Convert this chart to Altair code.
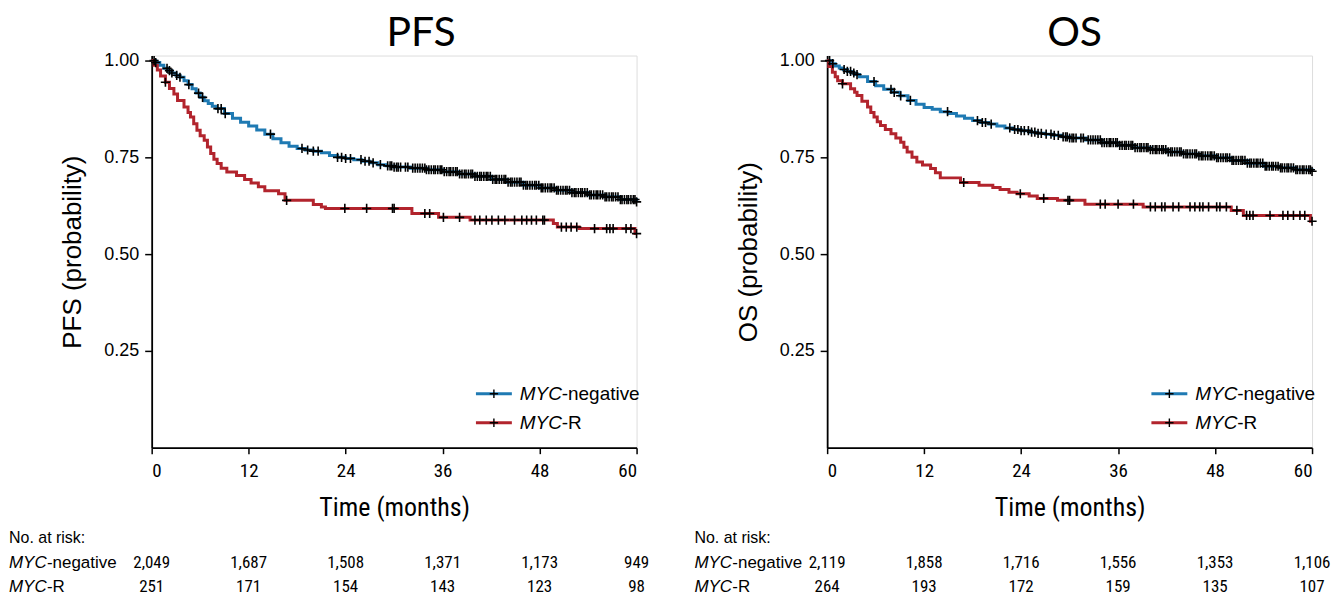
import altair as alt
import pandas as pd

# ---------------- data ----------------
tick_months = [0, 12, 24, 36, 48, 60]

# PFS, MYC-negative
pfs_neg_t = [0, 0.5, 1, 1.5, 2, 2.5, 3, 3.5, 4, 4.5, 5, 5.5, 6, 6.5, 7, 7.5, 8, 9, 10, 11, 12, 13, 14, 15,
             16, 17, 18, 19, 20, 21, 22, 23, 24, 25, 26, 27, 28, 29, 30, 32, 34, 36, 38, 40, 42, 44, 46,
             48, 50, 52, 54, 56, 58, 60]
pfs_neg_s = [1.0, 0.995, 0.988, 0.980, 0.974, 0.968, 0.962, 0.957, 0.948, 0.938, 0.927, 0.916, 0.905, 0.896,
             0.889, 0.882, 0.876, 0.863, 0.851, 0.841, 0.831, 0.821, 0.810, 0.798, 0.788, 0.779, 0.773,
             0.769, 0.766, 0.762, 0.755, 0.750, 0.747, 0.744, 0.740, 0.736, 0.731, 0.728, 0.725, 0.722,
             0.718, 0.713, 0.707, 0.701, 0.693, 0.686, 0.678, 0.671, 0.665, 0.659, 0.653, 0.648, 0.641, 0.635]
# PFS, MYC-R
pfs_r_t = [0, 0.3, 0.7, 1.1, 1.7, 2.2, 2.75, 3.2, 4.0, 4.5, 4.8, 5.2, 5.6, 6.0, 6.5, 6.9, 7.3, 7.7, 8.1,
           8.6, 9.3, 10.5, 11.5, 12.3, 13.2, 14.0, 15.7, 16.5, 20.0, 21.0, 21.5, 32.2, 35.5, 39.4, 49.7,
           50.2, 52.9, 59.8, 60]
pfs_r_s = [1.0, 0.988, 0.976, 0.960, 0.944, 0.928, 0.914, 0.897, 0.880, 0.866, 0.854, 0.837, 0.820, 0.806,
           0.794, 0.777, 0.760, 0.745, 0.734, 0.722, 0.712, 0.703, 0.693, 0.684, 0.674, 0.664, 0.656, 0.639,
           0.628, 0.622, 0.618, 0.605, 0.595, 0.588, 0.579, 0.570, 0.566, 0.553, 0.553]

# OS, MYC-negative
os_neg_t = [0, 0.5, 1, 1.5, 2, 2.5, 3, 3.5, 4, 5, 6, 7, 8, 9, 10, 11, 12, 13, 14, 15, 16, 17, 18, 19, 20,
            21, 22, 23, 24, 25, 26, 27, 28, 29, 30, 32, 34, 36, 38, 40, 42, 44, 46, 48, 50, 52, 54, 56, 58, 60]
os_neg_s = [1.0, 0.992, 0.986, 0.981, 0.977, 0.972, 0.968, 0.964, 0.958, 0.946, 0.935, 0.926, 0.918, 0.909,
            0.897, 0.887, 0.879, 0.874, 0.868, 0.863, 0.857, 0.851, 0.845, 0.840, 0.836, 0.831, 0.826,
            0.822, 0.819, 0.815, 0.812, 0.810, 0.807, 0.803, 0.800, 0.795, 0.788, 0.781, 0.775, 0.770,
            0.764, 0.759, 0.754, 0.749, 0.742, 0.735, 0.727, 0.723, 0.718, 0.714]
# OS, MYC-R
os_r_t = [0, 0.2, 0.65, 1.0, 1.3, 1.9, 2.9, 3.4, 3.7, 4.3, 5.0, 5.4, 5.8, 6.2, 6.6, 7.2, 7.9, 8.5, 9.1, 9.5,
          9.9, 10.5, 11.1, 11.8, 12.8, 13.4, 14.0, 16.5, 18.8, 20.5, 21.4, 22.5, 23.5, 25.0, 26.0, 28.5,
          31.9, 39.1, 50.0, 51.5, 59.8, 60]
os_r_s = [1.0, 0.985, 0.970, 0.958, 0.948, 0.940, 0.927, 0.918, 0.910, 0.895, 0.880, 0.866, 0.854, 0.842,
          0.832, 0.822, 0.811, 0.800, 0.789, 0.776, 0.764, 0.750, 0.738, 0.730, 0.721, 0.710, 0.697, 0.685,
          0.678, 0.672, 0.667, 0.660, 0.656, 0.650, 0.644, 0.639, 0.629, 0.622, 0.613, 0.600, 0.585, 0.585]

# censoring times (months)
dense_tail = [29.2, 29.5, 29.7, 30.0, 30.3, 30.5, 30.8, 31.4, 31.7, 32.3, 32.6, 32.9, 33.2, 33.5, 33.8,
              34.0, 34.3, 34.6, 34.9, 35.1, 35.4, 35.7, 35.9, 36.2, 36.5, 36.8, 37.0, 37.3, 37.6, 37.8,
              38.1, 38.4, 38.7, 38.9, 39.2, 39.5, 39.7, 40.0, 40.3, 40.6, 40.8, 41.1, 41.4, 41.6, 41.9,
              42.2, 42.5, 42.7, 43.0, 43.3, 43.6, 43.8, 44.1, 44.4, 44.6, 44.9, 45.2, 45.5, 45.7, 46.0,
              46.3, 46.5, 46.8, 47.1, 47.4, 47.6, 47.9, 48.2, 48.4, 48.7, 49.0, 49.3, 49.5, 49.8, 50.1,
              50.3, 50.6, 50.9, 51.2, 51.4, 51.7, 52.0, 52.3, 52.5, 52.8, 53.1, 53.3, 53.6, 53.9, 54.2,
              54.4, 54.7, 55.0, 55.2, 55.5, 55.8, 56.1, 56.3, 56.6, 56.9, 57.1, 57.4, 57.7, 58.0, 58.2,
              58.5, 58.8, 59.0, 59.3, 59.6, 59.8, 60.0]
pfs_neg_cens = [0.3, 0.5, 1.9, 2.2, 2.5, 3.1, 3.5, 4.6, 5.8, 6.3, 8.2, 8.6, 9.1, 14.7, 18.6, 19.3, 20.0,
                20.6, 23.0, 23.5, 24.0, 24.6, 25.9, 26.4, 26.9, 27.4, 28.3] + dense_tail
pfs_r_cens = [1.7, 16.7, 23.9, 26.6, 29.8, 30.0, 33.8, 34.4, 36.1, 38.1, 40.0, 40.6, 41.4, 42.1, 42.9,
              43.7, 44.9, 45.8, 46.4, 47.0, 47.6, 48.4, 48.6, 50.7, 51.3, 51.9, 52.6, 54.8, 56.3, 56.7,
              57.1, 58.7, 59.3, 60.0]
os_neg_cens = [0.3, 0.7, 2.1, 2.5, 2.9, 3.3, 3.7, 5.8, 7.9, 8.3, 9.1, 10.3, 14.9, 18.6, 19.2, 19.6, 20.3,
               22.6, 23.2, 23.6, 24.0, 24.4, 24.9, 25.3, 25.7, 26.1, 26.5, 27.1, 27.7, 28.1, 28.6] + dense_tail
os_r_cens = [1.9, 16.9, 23.9, 26.8, 29.8, 30.0, 33.8, 34.4, 36.0, 37.9, 40.0, 40.6, 41.4, 41.8, 42.8, 43.5,
             44.9, 45.5, 46.1, 46.5, 47.2, 48.2, 48.6, 49.4, 50.7, 51.9, 52.3, 52.7, 54.8, 56.4, 57.0,
             57.7, 58.5, 59.1, 60.0]

# numbers at risk
pfs_risk_neg = ["2,049", "1,687", "1,508", "1,371", "1,173", "949"]
pfs_risk_r = ["251", "171", "154", "143", "123", "98"]
os_risk_neg = ["2,119", "1,858", "1,716", "1,556", "1,353", "1,106"]
os_risk_r = ["264", "193", "172", "159", "135", "107"]

groups = ["MYC-negative", "MYC-R"]

# ---------------- style ----------------
BLUE = "#1f7ab3"
RED = "#b2242d"
W, H = 486, 393
NARROW = "Liberation Sans Narrow, Roboto Condensed, DejaVu Sans Condensed, Roboto, sans-serif"
REG = "Liberation Sans, Arial, sans-serif"
TITLE_FONT = "Lato, Open Sans, sans-serif"
CROSS = "M-1,0L1,0M0,-1L0,1"


def step_value(ts, ss, t):
    v = ss[0]
    for a, b in zip(ts, ss):
        if a <= t:
            v = b
        else:
            break
    return v


def one_row(**kw):
    return pd.DataFrame({k: [v] for k, v in kw.items()})


def panel(title, title_x, ytitle, neg_t, neg_s, r_t, r_s, neg_c, r_c, risk_neg, risk_r, label_x):
    curves = pd.DataFrame({
        "t": neg_t + r_t,
        "s": neg_s + r_s,
        "g": [groups[0]] * len(neg_t) + [groups[1]] * len(r_t),
    })
    cens = pd.DataFrame({
        "t": neg_c + r_c,
        "s": [step_value(neg_t, neg_s, c) for c in neg_c] + [step_value(r_t, r_s, c) for c in r_c],
    })
    x = alt.X("t:Q", scale=alt.Scale(domain=[0, 60], nice=False, zero=False),
              axis=alt.Axis(values=tick_months, title="Time (months)", grid=False,
                            labelFont=NARROW, labelFontSize=19, labelPadding=8,
                            titleFont=NARROW, titleFontSize=26, titleFontWeight="normal",
                            titlePadding=14, tickSize=6, tickWidth=1.5, domainWidth=1.8,
                            domainColor="black", tickColor="black", labelColor="black",
                            titleColor="black"))
    y = alt.Y("s:Q", scale=alt.Scale(domain=[0, 1.013], nice=False, zero=False),
              axis=alt.Axis(values=[0.25, 0.5, 0.75, 1.0], format=".2f", title=ytitle, grid=False,
                            labelFont=REG, labelFontSize=18, labelPadding=6,
                            titleFont=REG, titleFontSize=26, titleFontWeight="normal",
                            titlePadding=18, tickSize=7, tickWidth=1.5, domainWidth=1.8,
                            domainColor="black", tickColor="black", labelColor="black",
                            titleColor="black"))
    color = alt.Color("g:N", scale=alt.Scale(domain=groups, range=[BLUE, RED]), legend=None)

    lines = alt.Chart(curves).mark_line(interpolate="step-after", strokeWidth=3).encode(
        x=x, y=y, color=color, detail="g:N")
    crosses = alt.Chart(cens).mark_point(shape=CROSS, size=85, filled=False, stroke="black",
                                         strokeWidth=1.6, opacity=1).encode(x="t:Q", y="s:Q")

    # title
    ttl = alt.Chart(one_row(txt=title)).mark_text(font=TITLE_FONT, fontSize=41, align="center",
                                                  baseline="alphabetic", color="black").encode(
        x=alt.value(title_x), y=alt.value(-10), text="txt:N")

    # legend (manual, to allow italic gene name)
    leg = []
    for i, (col, suffix) in enumerate([(BLUE, "-negative"), (RED, "-R")]):
        yy = H - 54 + 29 * i
        d = one_row(k=0)
        leg.append(alt.Chart(d).mark_rule(color=col, strokeWidth=3).encode(
            x=alt.value(325), x2=alt.value(361), y=alt.value(yy)))
        leg.append(alt.Chart(d).mark_point(shape=CROSS, size=70, filled=False, stroke="black",
                                           strokeWidth=1.4, opacity=1).encode(
            x=alt.value(343), y=alt.value(yy)))
        leg.append(alt.Chart(one_row(txt="MYC")).mark_text(
            font=REG, fontSize=19, fontStyle="italic", align="left", baseline="middle",
            color="black").encode(x=alt.value(369), y=alt.value(yy), text="txt:N"))
        leg.append(alt.Chart(one_row(txt=suffix)).mark_text(
            font=REG, fontSize=19, align="left", baseline="middle", color="black").encode(
            x=alt.value(411), y=alt.value(yy), text="txt:N"))

    # risk table
    risk = pd.DataFrame({"t": tick_months, "neg": risk_neg, "r": risk_r})
    rt = [
        alt.Chart(one_row(txt="No. at risk:")).mark_text(
            font=REG, fontSize=16, align="left", baseline="middle", color="black").encode(
            x=alt.value(label_x), y=alt.value(H + 91), text="txt:N"),
    ]
    for j, (suffix, field) in enumerate([("-negative", "neg"), ("-R", "r")]):
        yy = H + 116 + 24 * j
        rt.append(alt.Chart(one_row(txt="MYC")).mark_text(
            font=REG, fontSize=17, fontStyle="italic", align="left", baseline="middle",
            color="black").encode(x=alt.value(label_x), y=alt.value(yy), text="txt:N"))
        rt.append(alt.Chart(one_row(txt=suffix)).mark_text(
            font=REG, fontSize=17, align="left", baseline="middle", color="black").encode(
            x=alt.value(label_x + 38), y=alt.value(yy), text="txt:N"))
        rt.append(alt.Chart(risk).mark_text(
            font=NARROW, fontSize=17, align="center", baseline="middle", color="black").encode(
            x="t:Q", y=alt.value(yy), text=f"{field}:N"))

    return alt.layer(lines, crosses, ttl, *leg, *rt).properties(width=W, height=H)


p1 = panel("PFS", 270, "PFS (probability)", pfs_neg_t, pfs_neg_s, pfs_r_t, pfs_r_s,
           pfs_neg_cens, pfs_r_cens, pfs_risk_neg, pfs_risk_r, -143)
p2 = panel("OS", 248, "OS (probability)", os_neg_t, os_neg_s, os_r_t, os_r_s,
           os_neg_cens, os_r_cens, os_risk_neg, os_risk_r, -133)

chart = alt.hconcat(p1, p2, spacing=191, bounds="flush").properties(
    padding={"left": 0, "top": 3, "right": 0, "bottom": 0}
).configure_view(stroke=None).configure(background="white")

chart.save("out.html", embed_options={"renderer": "svg", "actions": False})
